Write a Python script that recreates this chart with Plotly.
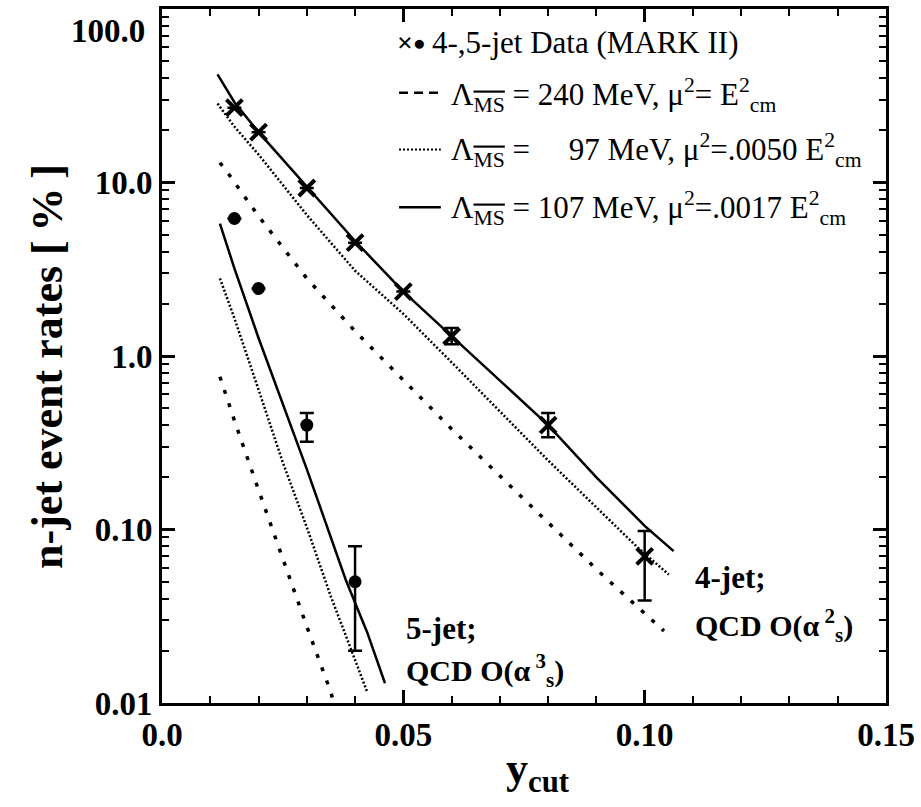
import plotly.graph_objects as go

# ---- data ----
x4_data = [0.015, 0.02, 0.03, 0.04, 0.05, 0.06, 0.08, 0.10]
y4_data = [27.0, 19.5, 9.3, 4.5, 2.35, 1.3, 0.40, 0.070]
y4_err_plus = [0, 0, 0, 0, 0, 0.15, 0.07, 0.028]
y4_err_minus = [0, 0, 0, 0, 0, 0.13, 0.06, 0.031]

x5_data = [0.015, 0.02, 0.03, 0.04]
y5_data = [6.2, 2.45, 0.40, 0.050]
y5_err_plus = [0, 0, 0.07, 0.03]
y5_err_minus = [0, 0, 0.08, 0.03]

# QCD O(as^2) 4-jet predictions
x4_240 = [0.012, 0.0134, 0.02, 0.03, 0.04, 0.05, 0.06, 0.07, 0.08, 0.09, 0.0975, 0.104]
y4_240 = [13.0, 11.6, 6.4, 2.8, 1.39, 0.73, 0.38, 0.204, 0.11, 0.059, 0.038, 0.026]
x4_97 = [0.0115, 0.015, 0.02, 0.03, 0.04, 0.05, 0.06, 0.08, 0.0985, 0.105]
y4_97 = [28.5, 21.0, 14.5, 6.5, 3.1, 1.75, 0.92, 0.25, 0.079, 0.055]
x4_107 = [0.0115, 0.015, 0.02, 0.03, 0.04, 0.05, 0.06, 0.07, 0.08, 0.09, 0.10, 0.106]
y4_107 = [42.0, 29.0, 19.5, 9.4, 4.6, 2.35, 1.3, 0.72, 0.40, 0.20, 0.105, 0.075]

# QCD O(as^3) 5-jet predictions
x5_240 = [0.012, 0.015, 0.02, 0.025, 0.03, 0.035, 0.0355]
y5_240 = [0.76, 0.425, 0.169, 0.068, 0.0276, 0.0115, 0.0102]
x5_97 = [0.012, 0.015, 0.02, 0.025, 0.03, 0.035, 0.04, 0.0425]
y5_97 = [2.8, 1.65, 0.64, 0.245, 0.103, 0.041, 0.0177, 0.0116]
x5_107 = [0.012, 0.015, 0.02, 0.03, 0.0381, 0.0425, 0.0462]
y5_107 = [5.8, 3.2, 1.27, 0.223, 0.051, 0.0256, 0.013]

x_tickvals = [0.0, 0.05, 0.10, 0.15]
x_ticktext = ["0.0", "0.05", "0.10", "0.15"]
y_tickvals = [0.01, 0.1, 1, 10]
y_ticktext = ["0.01", "0.10", "1.0", "10.0"]

FONT = "Liberation Serif, Times New Roman, Tinos, Times, serif"
DASH_240 = "4px,10px"
DOT_97 = "2px,2px"

fig = go.Figure()

def curve(x, y, dash, width):
    fig.add_trace(go.Scatter(x=x, y=y, mode="lines",
                             line=dict(color="black", width=width, dash=dash),
                             showlegend=False, hoverinfo="skip"))

curve(x4_240, y4_240, DASH_240, 3.5)
curve(x4_97, y4_97, DOT_97, 2.5)
curve(x4_107, y4_107, "solid", 2.5)
curve(x5_240, y5_240, DASH_240, 3.5)
curve(x5_97, y5_97, DOT_97, 2.5)
curve(x5_107, y5_107, "solid", 2.5)

fig.add_trace(go.Scatter(
    x=x4_data, y=y4_data, mode="markers",
    marker=dict(symbol="x-thin", size=16, color="black",
                line=dict(color="black", width=4)),
    error_y=dict(type="data", symmetric=False, array=y4_err_plus,
                 arrayminus=y4_err_minus, color="black", thickness=2.5, width=7),
    showlegend=False))
fig.add_trace(go.Scatter(
    x=x5_data, y=y5_data, mode="markers",
    marker=dict(symbol="circle", size=13, color="black"),
    error_y=dict(type="data", symmetric=False, array=y5_err_plus,
                 arrayminus=y5_err_minus, color="black", thickness=2.5, width=7),
    showlegend=False))

# ---- layout geometry (pixels) ----
L, R, T, B = 162, 889, 6, 703
W, H = 921, 807
def px(x):
    return (x - L) / (R - L)
def py(y):
    return (B - y) / (B - T)

axis_common = dict(showline=True, linewidth=3, linecolor="black", mirror="ticks",
                   ticks="inside", ticklen=13, tickwidth=2.5, tickcolor="black",
                   showgrid=False, zeroline=False,
                   tickfont=dict(family=FONT, size=33, color="black", weight="bold"))

fig.update_layout(
    width=W, height=H,
    margin=dict(l=L, r=W - R, t=T, b=H - B),
    plot_bgcolor="white", paper_bgcolor="white",
    font=dict(family=FONT, color="black"),
    xaxis=dict(range=[0, 0.15], tickvals=x_tickvals, ticktext=x_ticktext,
               minor=dict(ticks="inside", ticklen=7, tickwidth=2, dtick=0.01,
                          tickcolor="black", showgrid=False),
               **axis_common),
    yaxis=dict(type="log", range=[-2, 2], tickvals=y_tickvals, ticktext=y_ticktext,
               minor=dict(ticks="inside", ticklen=7, tickwidth=2, dtick="D1",
                          tickcolor="black", showgrid=False),
               **axis_common),
)

ann = []
def text(x, y, s, size, bold=False, xanchor="left", yanchor="middle", angle=0):
    ann.append(dict(xref="paper", yref="paper", x=x, y=y, text=s, showarrow=False,
                    xanchor=xanchor, yanchor=yanchor, textangle=angle,
                    font=dict(family=FONT, size=size, color="black",
                              weight="bold" if bold else "normal")))

# 100.0 label (drawn below its tick like the original)
text(px(147), py(28), "100.0", 33, True, xanchor="right")

# axis titles
text(px(47), py(365), "n-jet event rates [\u2009%\u2009]", 44, True, xanchor="center", angle=-90)
text(px(540), py(772), "y<sub>cut</sub>", 44, True, xanchor="center")

# curve labels
text(px(695), py(577), "4-jet;", 31, True)
text(px(695), py(625), "QCD O(α<sup> 2</sup><sub>s</sub>)", 30, True)
text(px(405), py(628), "5-jet;", 31, True)
text(px(405), py(670), "QCD O(α<sup> 3</sup><sub>s</sub>)", 30, True)

# legend
MS = "<sub><span style='text-decoration:overline'>MS</span></sub>"
text(px(406), py(40), "×", 28, True, xanchor="center")
text(px(421), py(40), "●", 21, False, xanchor="center")
text(px(431), py(40), "4-,5-jet Data (MARK II)", 31)
text(px(450), py(92), f"Λ{MS} = 240 MeV, μ<sup>2</sup>= E<sup>2</sup><sub>cm</sub>", 31)
text(px(450), py(148), f"Λ{MS} = \u2007\u200797 MeV, μ<sup>2</sup>=.0050 E<sup>2</sup><sub>cm</sub>", 31)
text(px(450), py(206), f"Λ{MS} = 107 MeV, μ<sup>2</sup>=.0017 E<sup>2</sup><sub>cm</sub>", 31)
fig.update_layout(annotations=ann)

shapes = [
    dict(type="line", xref="paper", yref="paper", x0=px(400), x1=px(442), y0=py(90), y1=py(90),
         line=dict(color="black", width=2.5, dash="9px,6px")),
    dict(type="line", xref="paper", yref="paper", x0=px(400), x1=px(442), y0=py(147), y1=py(147),
         line=dict(color="black", width=2, dash="2px,2px")),
    dict(type="line", xref="paper", yref="paper", x0=px(400), x1=px(442), y0=py(205), y1=py(205),
         line=dict(color="black", width=2.5)),
]
fig.update_layout(shapes=shapes)

fig.write_html("out.html")
